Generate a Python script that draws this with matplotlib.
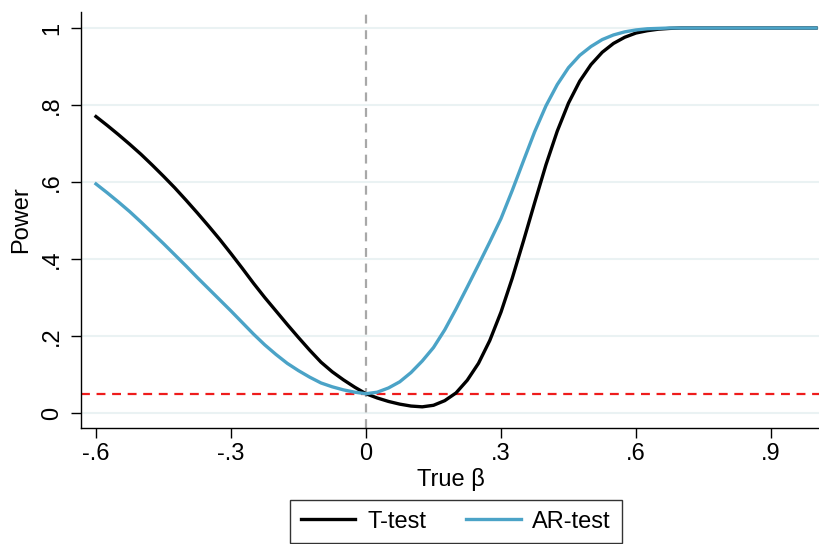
import matplotlib.pyplot as plt

# values
beta = [-0.600, -0.575, -0.550, -0.525, -0.500, -0.475, -0.450, -0.425, -0.400, -0.375,
        -0.350, -0.325, -0.300, -0.275, -0.250, -0.225, -0.200, -0.175, -0.150, -0.125,
        -0.100, -0.075, -0.050, -0.025, 0.000, 0.025, 0.050, 0.075, 0.100, 0.125,
        0.150, 0.175, 0.200, 0.225, 0.250, 0.275, 0.300, 0.325, 0.350, 0.375,
        0.400, 0.425, 0.450, 0.475, 0.500, 0.525, 0.550, 0.575, 0.600, 0.625,
        0.650, 0.675, 0.700, 0.800, 0.900, 1.000]
t_test = [0.770, 0.747, 0.723, 0.698, 0.672, 0.644, 0.615, 0.585, 0.553, 0.520,
          0.486, 0.451, 0.414, 0.376, 0.337, 0.300, 0.265, 0.230, 0.196, 0.163,
          0.132, 0.107, 0.086, 0.067, 0.050, 0.039, 0.030, 0.023, 0.018, 0.016,
          0.020, 0.032, 0.052, 0.085, 0.129, 0.188, 0.262, 0.350, 0.447, 0.547,
          0.645, 0.732, 0.805, 0.862, 0.905, 0.937, 0.960, 0.976, 0.987, 0.993,
          0.997, 0.999, 1.000, 1.000, 1.000, 1.000]
ar_test = [0.595, 0.572, 0.548, 0.523, 0.496, 0.468, 0.440, 0.411, 0.382, 0.352,
           0.323, 0.294, 0.265, 0.235, 0.205, 0.177, 0.152, 0.129, 0.110, 0.093,
           0.078, 0.068, 0.060, 0.054, 0.050, 0.054, 0.065, 0.081, 0.105, 0.135,
           0.170, 0.216, 0.270, 0.327, 0.385, 0.444, 0.505, 0.578, 0.655, 0.731,
           0.798, 0.853, 0.897, 0.929, 0.952, 0.970, 0.982, 0.990, 0.995, 0.998,
           0.999, 1.000, 1.000, 1.000, 1.000, 1.000]
size_level = 0.05

xticks = [-0.6, -0.3, 0.0, 0.3, 0.6, 0.9]
xticklabels = ['-.6', '-.3', '0', '.3', '.6', '.9']
yticks = [0, 0.2, 0.4, 0.6, 0.8, 1.0]
yticklabels = ['0', '.2', '.4', '.6', '.8', '1']

plt.rcParams['font.family'] = ['Liberation Sans', 'DejaVu Sans']

fig = plt.figure(figsize=(8.2, 5.44), dpi=100)
ax = fig.add_axes([81 / 820, 116 / 544, 739 / 820, 416 / 544])

for y in yticks:
    ax.axhline(y, color='#eaf2f3', lw=1.5, zorder=0)

ax.axvline(0, color='#a8a8a8', lw=1.6, ls=(0, (4, 3)), zorder=1)
ax.axhline(size_level, color='#ee1c1c', lw=1.6, ls=(0, (4, 3)), zorder=1)

ax.plot(beta, t_test, color='black', lw=2.4, label='T-test', zorder=3)
ax.plot(beta, ar_test, color='#4ba3c7', lw=2.4, label='AR-test', zorder=3)

ax.set_xlim(-0.6333, 1.0089)
ax.set_ylim(-0.039, 1.0416)
ax.set_xticks(xticks)
ax.set_xticklabels(xticklabels)
ax.set_yticks(yticks)
ax.set_yticklabels(yticklabels, rotation=90, va='center')
ax.tick_params(axis='both', length=7, width=1, labelsize=17, color='black')
ax.tick_params(axis='x', pad=4)
ax.tick_params(axis='y', pad=6)

ax.spines['top'].set_visible(False)
ax.spines['right'].set_visible(False)
ax.spines['left'].set_linewidth(1)
ax.spines['bottom'].set_linewidth(1)

ax.set_xlabel('True β', fontsize=17, labelpad=2)
ax.set_ylabel('Power', fontsize=17, labelpad=6)

leg = fig.legend(loc='upper center', bbox_to_anchor=(456 / 820, 44 / 544),
                 ncol=2, fontsize=17, frameon=True, fancybox=False,
                 edgecolor='black', handlelength=2.3, handletextpad=0.5,
                 columnspacing=1.7, borderpad=0.45, borderaxespad=0)
leg.get_frame().set_linewidth(1)

fig.savefig('out.png', dpi=100)
